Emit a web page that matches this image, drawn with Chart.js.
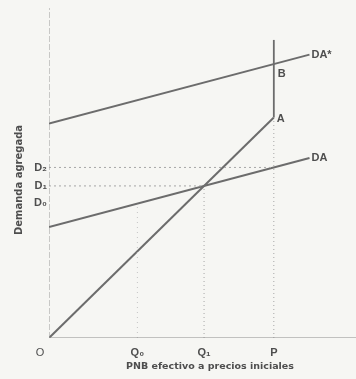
<!DOCTYPE html>
<html>
<head>
<meta charset="utf-8">
<script src="https://cdn.jsdelivr.net/npm/chart.js@4"></script>
<style>
  html, body { margin: 0; padding: 0; background: #f6f6f3; }
  #wrap { width: 356px; height: 379px; }
</style>
</head>
<body>
<div id="wrap"><canvas id="cruz"></canvas></div>
<script>
// income points on the horizontal axis
const xTickValues = [57, 100, 145];
const xTickLabels = ["Q₀", "Q₁", "P"];
// demand levels marked on the vertical axis
const yTickValues = [112, 100, 88.5];
const yTickLabels = ["D₂", "D₁", "D₀"];

// aggregate demand lines: intercept and slope
const daIntercept = 73;
const daStarIntercept = 141;
const daSlope = 0.27;
const lineEnd = 168;

const xMax = 198;
const yMax = 217;
const pTop = 196;

const Q0 = xTickValues[0], Q1 = xTickValues[1], P = xTickValues[2];
const da = x => daIntercept + daSlope * x;
const daStar = x => daStarIntercept + daSlope * x;

const ink = "#6c6c6c";
const dotted = "#a6a6a6";

function seg(points, color, width, dash) {
    return {
        data: points,
        borderColor: color,
        borderWidth: width,
        borderDash: dash || [],
        pointRadius: 0,
        fill: false,
        tension: 0
    };
}

const datasets = [
    seg([{ x: 0, y: 0 }, { x: 0, y: yMax }], "#9a9a9a", 1, [6, 2]),
    seg([{ x: 0, y: 0 }, { x: xMax, y: 0 }], "#8c8c8c", 1.2),
    seg([{ x: Q0, y: 0 }, { x: Q0, y: da(Q0) }], "#c4c4c4", 1, [1, 4]),
    seg([{ x: Q1, y: 0 }, { x: Q1, y: Q1 }], dotted, 1, [1, 3]),
    seg([{ x: 0, y: Q1 }, { x: Q1, y: Q1 }], dotted, 1, [2, 3]),
    seg([{ x: 0, y: da(P) }, { x: P, y: da(P) }], dotted, 1, [2, 3]),
    seg([{ x: P, y: 0 }, { x: P, y: P }], dotted, 1, [1, 3]),
    seg([{ x: P, y: P }, { x: P, y: pTop }], ink, 1.8),
    seg([{ x: 0, y: 0 }, { x: P, y: P }], ink, 2),
    seg([{ x: 0, y: da(0) }, { x: lineEnd, y: da(lineEnd) }], ink, 2),
    seg([{ x: 0, y: daStar(0) }, { x: lineEnd, y: daStar(lineEnd) }], ink, 2)
];

// background and all text labels, placed through the chart scales
const labelsPlugin = {
    id: "labels",
    beforeDraw(chart) {
        const c = chart.ctx;
        c.save();
        c.fillStyle = "#f6f6f3";
        c.fillRect(0, 0, chart.width, chart.height);
        c.restore();
    },
    afterDraw(chart) {
        const c = chart.ctx;
        const sx = chart.scales.x, sy = chart.scales.y;
        c.save();
        c.fillStyle = "#4e4e4e";
        c.font = "bold 11px 'Liberation Sans', Arial, sans-serif";
        c.textBaseline = "middle";

        c.textAlign = "center";
        xTickLabels.forEach((t, i) => {
            c.fillText(t, sx.getPixelForValue(xTickValues[i]), sy.getPixelForValue(0) + 15);
        });
        c.font = "11px 'Liberation Sans', Arial, sans-serif";
        c.fillText("O", sx.getPixelForValue(0) - 9, sy.getPixelForValue(0) + 15);

        c.font = "bold 11px 'Liberation Sans', Arial, sans-serif";
        c.textAlign = "right";
        yTickLabels.forEach((t, i) => {
            c.fillText(t, sx.getPixelForValue(0) - 2, sy.getPixelForValue(yTickValues[i]));
        });

        c.textAlign = "left";
        c.fillText("DA*", sx.getPixelForValue(lineEnd) + 2, sy.getPixelForValue(daStar(lineEnd)));
        c.fillText("DA", sx.getPixelForValue(lineEnd) + 2, sy.getPixelForValue(da(lineEnd)));
        c.fillText("A", sx.getPixelForValue(P) + 3, sy.getPixelForValue(P) + 1);
        c.fillText("B", sx.getPixelForValue(P) + 4, sy.getPixelForValue(daStar(P)) + 10);

        c.font = "bold 9.5px 'DejaVu Sans', sans-serif";
        c.textAlign = "center";
        c.fillText("PNB efectivo a precios iniciales", 210, 367);

        c.font = "bold 10px 'DejaVu Sans', sans-serif";
        c.translate(19, 180);
        c.rotate(-Math.PI / 2);
        c.fillText("Demanda agregada", 0, 0);
        c.restore();
    }
};

new Chart(document.getElementById("cruz"), {
    type: "line",
    data: { datasets },
    options: {
        responsive: true,
        maintainAspectRatio: false,
        animation: false,
        layout: { padding: { left: 49, top: 8, right: 0, bottom: 41 } },
        plugins: { legend: { display: false }, tooltip: { enabled: false } },
        scales: {
            x: { type: "linear", min: 0, max: xMax, display: false },
            y: { type: "linear", min: 0, max: yMax, display: false }
        }
    },
    plugins: [labelsPlugin]
});
</script>
</body>
</html>
